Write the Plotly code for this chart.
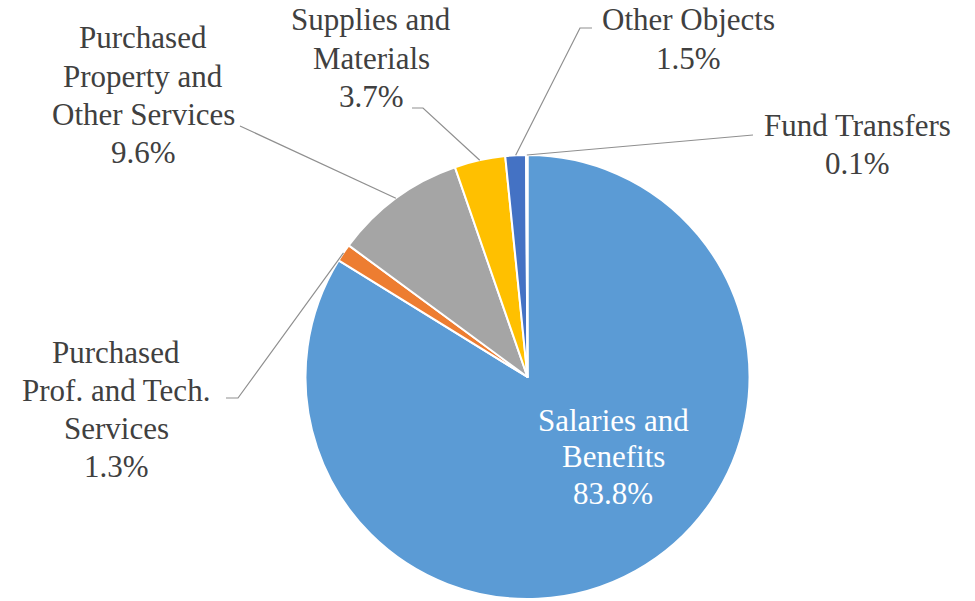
import math
import plotly.graph_objects as go

# ---- data ----
categories = ["Salaries and Benefits", "Purchased Prof. and Tech. Services",
              "Purchased Property and Other Services", "Supplies and Materials",
              "Other Objects", "Fund Transfers"]
values = [83.8, 1.3, 9.6, 3.7, 1.5, 0.1]
label_lines = [["Salaries and", "Benefits"],
               ["Purchased", "Prof. and Tech.", "Services"],
               ["Purchased", "Property and", "Other Services"],
               ["Supplies and", "Materials"],
               ["Other Objects"],
               ["Fund Transfers"]]
colors = ["#5B9BD5", "#ED7D31", "#A5A5A5", "#FFC000", "#4472C4", "#70AD47"]

# ---- layout geometry (pixels) ----
W, H = 975, 601
CX, CY, R = 527.5, 377.0, 222.0
FONT = "'Liberation Serif', 'DejaVu Serif', serif"
FS = 31
LINE_H = 38.3
TXT = "#404040"
LEADER = "#8f8f8f"

# label block: (center x, y of first line center, text color, line height)
label_pos = [
    (613, 420, "white", 36.5),
    (116, 352, TXT, LINE_H),
    (143, 38, TXT, LINE_H),
    (371, 20, TXT, LINE_H),
    (688, 20, TXT, LINE_H),
    (857, 125, TXT, LINE_H),
]
# leader line path end points (from label side), pixels
leader_pts = [
    None,
    [(226, 398), (238, 398)],
    [(240, 126)],
    [(412, 108), (423, 108)],
    [(592, 28), (580, 28)],
    [(753, 135)],
]

def px(x):
    return x / W

def py(y):
    return 1 - y / H

fig = go.Figure(go.Pie(
    labels=categories, values=values, sort=False, direction="clockwise",
    rotation=0, textinfo="none", hoverinfo="label+percent",
    marker=dict(colors=colors, line=dict(color="white", width=2)),
    domain=dict(x=[px(CX - R), px(CX + R)], y=[py(CY + R), py(CY - R)]),
    showlegend=False,
))

annotations = []
shapes = []
total = sum(values)
cum = 0.0
for i, v in enumerate(values):
    mid = (cum + v / 2) / total
    cum += v
    ang = 2 * math.pi * mid
    ex, ey = CX + R * math.sin(ang), CY - R * math.cos(ang)
    cx, y0, col, lh = label_pos[i]
    lines = label_lines[i] + [f"{v:.1f}%"]
    for k, t in enumerate(lines):
        annotations.append(dict(
            x=px(cx), y=py(y0 + k * lh), xref="paper", yref="paper",
            text=t, showarrow=False, xanchor="center", yanchor="middle",
            font=dict(family=FONT, size=FS, color=col)))
    if leader_pts[i]:
        pts = leader_pts[i] + [(ex, ey)]
        path = "M " + " L ".join(f"{px(a)},{py(b)}" for a, b in pts)
        shapes.append(dict(type="path", path=path, xref="paper", yref="paper",
                           line=dict(color=LEADER, width=1.2)))

fig.update_layout(
    width=W, height=H, margin=dict(l=0, r=0, t=0, b=0),
    paper_bgcolor="white", plot_bgcolor="white",
    font=dict(family=FONT),
    annotations=annotations, shapes=shapes,
)
fig.write_html("out.html")
